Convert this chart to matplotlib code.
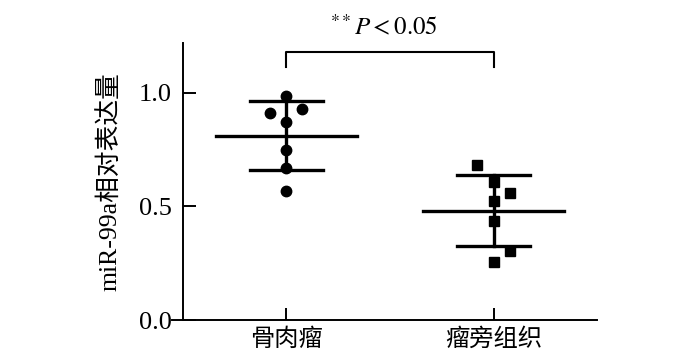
import numpy as np
import matplotlib.pyplot as plt

plt.rcParams['font.family'] = ['Liberation Serif', 'Noto Sans CJK SC']
plt.rcParams['mathtext.fontset'] = 'stix'

# data
groups = ['骨肉瘤', '瘤旁组织']
osteo = np.array([0.987, 0.91, 0.93, 0.871, 0.75, 0.668, 0.57])
osteo_jit = np.array([0, -1, 1, 0, 0, 0, 0])
adjacent = np.array([0.683, 0.609, 0.558, 0.526, 0.436, 0.305, 0.257])
adjacent_jit = np.array([-1, 0, 1, 0, 0, 1, 0])
yticks = [0.0, 0.5, 1.0]

fig = plt.figure(figsize=(7, 3.58), dpi=100)
ax = fig.add_axes([0.261, 0.106, 0.592, 0.774])

for i, (vals, jit, mk) in enumerate([(osteo, osteo_jit, 'o'), (adjacent, adjacent_jit, 's')]):
    m = vals.mean()
    sd = vals.std(ddof=1)
    ax.plot([i, i], [m - sd, m + sd], color='k', lw=2.4, zorder=2)
    ax.plot([i - 0.175, i + 0.175], [m + sd, m + sd], color='k', lw=2.4, zorder=2)
    ax.plot([i - 0.175, i + 0.175], [m - sd, m - sd], color='k', lw=2.4, zorder=2)
    ax.plot([i - 0.34, i + 0.34], [m, m], color='k', lw=2.4, zorder=2)
    ax.plot(i + jit * 0.078, vals, linestyle='none', marker=mk, color='k',
            markersize=7.5, zorder=3)

# significance bracket
ax.plot([0, 0, 1, 1], [1.116, 1.182, 1.182, 1.116], color='k', lw=1.5, clip_on=False)
ax.text(0.47, 1.232, r'$^{**}\mathit{P}<0.05$', ha='center', va='bottom',
        fontsize=18, clip_on=False)

ax.set_xlim(-0.5, 1.5)
ax.set_ylim(0, 1.22)
ax.set_xticks([0, 1])
ax.set_xticklabels(groups, fontsize=17.5)
ax.set_yticks(yticks)
ax.set_yticklabels(['%.1f' % t for t in yticks], fontsize=19)
ax.tick_params(direction='in', length=9, width=1.4, pad=8)
ax.tick_params(axis='x', pad=6)
ax.set_ylabel('miR-99a相对表达量', fontsize=18.5, labelpad=12)
for s in ['top', 'right']:
    ax.spines[s].set_visible(False)
for s in ['left', 'bottom']:
    ax.spines[s].set_linewidth(1.4)
ax.spines['bottom'].set_bounds(-0.553, 1.5)

fig.savefig('out.png', dpi=100)
